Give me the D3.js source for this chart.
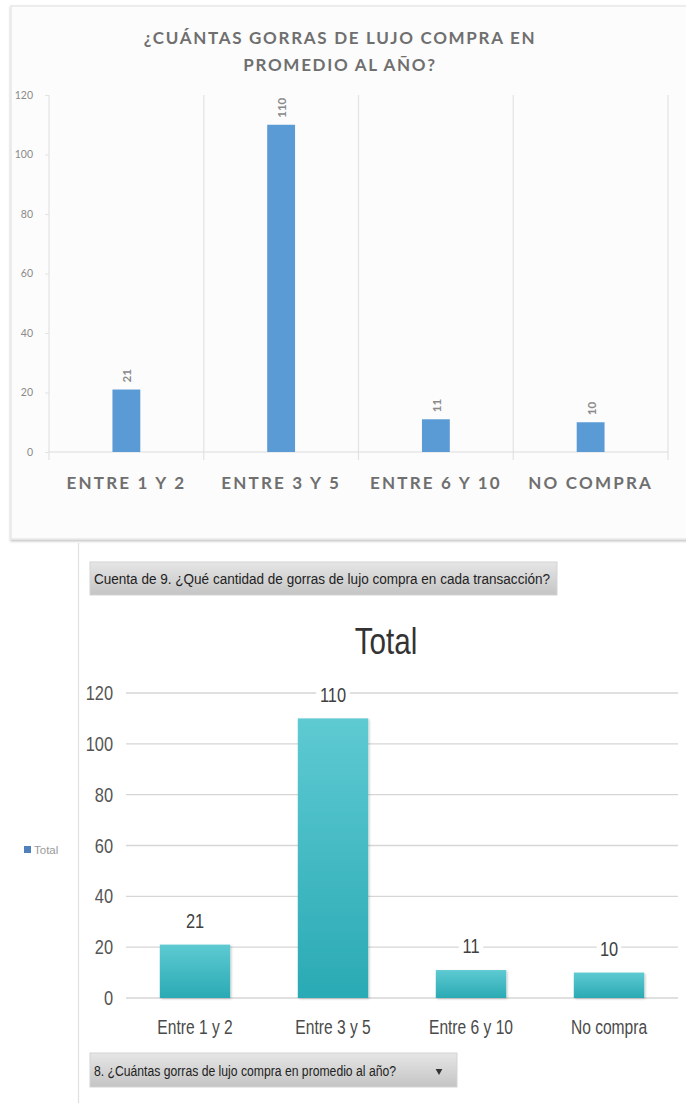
<!DOCTYPE html>
<html>
<head>
<meta charset="utf-8">
<script src="https://cdn.jsdelivr.net/npm/d3@7"></script>
<style>
  html, body { margin: 0; padding: 0; background: #ffffff; }
  svg { display: block; }
</style>
</head>
<body>
<svg id="chart" width="686" height="1103"></svg>
<script>
// Survey answers: how many luxury caps are bought per year
const categories = ["Entre 1 y 2", "Entre 3 y 5", "Entre 6 y 10", "No compra"];
const counts = [21, 110, 11, 10];
const yTicks = [0, 20, 40, 60, 80, 100, 120];

const topTitle = ["¿CUÁNTAS GORRAS DE LUJO COMPRA EN", "PROMEDIO AL AÑO?"];
const pivotTitle = "Total";
const valueField = "Cuenta de 9. ¿Qué cantidad de gorras de lujo compra en cada transacción?";
const axisField = "8. ¿Cuántas gorras de lujo compra en promedio al año?";
const legendLabel = "Total";

const data = categories.map((c, i) => ({ cat: c, value: counts[i] }));
const svg = d3.select("#chart");
const defs = svg.append("defs");

// condensed look: regular sans squeezed horizontally
const NARROW = "'Liberation Sans', Arial, sans-serif";
const SQUEEZE = 0.8;
const CAL = "Lato, 'Open Sans', sans-serif";

function narrowText(parent, x, y, str, size, fill, anchor) {
  return parent.append("text")
    .attr("transform", `translate(${x},${y}) scale(${SQUEEZE},1)`)
    .attr("text-anchor", anchor || "start")
    .attr("font-family", NARROW).attr("font-size", size).attr("fill", fill)
    .text(str);
}

/* ---------- upper chart: card ---------- */
const shadow = defs.append("filter").attr("id", "cardShadow")
  .attr("x", "-5%").attr("y", "-5%").attr("width", "110%").attr("height", "110%");
shadow.append("feDropShadow").attr("dx", 0).attr("dy", 1.5).attr("stdDeviation", 1.2)
  .attr("flood-color", "#000").attr("flood-opacity", 0.25);

svg.append("rect").attr("x", 11).attr("y", 6).attr("width", 690).attr("height", 533)
  .attr("fill", "#fcfcfc").attr("stroke", "#e8e8e8").attr("stroke-width", 1.5)
  .attr("filter", "url(#cardShadow)");

const upper = { left: 49, right: 668, y0: 452, y1: 95 };
const xTop = d3.scaleBand().domain(categories).range([upper.left, upper.right]);
const xTopBar = d3.scaleBand().domain(categories).range([upper.left, upper.right])
  .paddingInner(0.82).paddingOuter(0.41);
const yTop = d3.scaleLinear().domain([0, 120]).range([upper.y0, upper.y1]);

svg.append("g").selectAll("text").data(topTitle).join("text")
  .attr("x", 340).attr("y", (d, i) => 44 + i * 27)
  .attr("text-anchor", "middle")
  .attr("font-family", CAL).attr("font-weight", 700).attr("font-size", 17)
  .attr("letter-spacing", 1.7).attr("fill", "#6f6f6f")
  .text(d => d);

// category separators and axis frame
const sepX = categories.map(c => xTop(c)).concat([upper.right]);
svg.append("g").selectAll("line").data(sepX).join("line")
  .attr("x1", d => d).attr("x2", d => d)
  .attr("y1", yTop(120)).attr("y2", upper.y0 + 8)
  .attr("stroke", "#e3e3e3").attr("stroke-width", 1.2);
svg.append("line").attr("x1", upper.left).attr("x2", upper.right)
  .attr("y1", upper.y0).attr("y2", upper.y0)
  .attr("stroke", "#dcdcdc").attr("stroke-width", 1.2);

// y axis (labels and short ticks)
const yAxisTop = svg.append("g").attr("transform", `translate(${upper.left},0)`)
  .call(d3.axisLeft(yTop).tickValues(yTicks).tickSize(4).tickPadding(12));
yAxisTop.select(".domain").remove();
yAxisTop.selectAll(".tick line").attr("stroke", "#e3e3e3");
yAxisTop.selectAll(".tick text").attr("font-family", CAL).attr("font-size", 10.5)
  .attr("fill", "#8a8a8a");

svg.append("g").selectAll("rect").data(data).join("rect")
  .attr("x", d => xTopBar(d.cat)).attr("width", xTopBar.bandwidth())
  .attr("y", d => yTop(d.value)).attr("height", d => upper.y0 - yTop(d.value))
  .attr("fill", "#5b9bd5");

svg.append("g").selectAll("text").data(data).join("text")
  .attr("transform", d => `translate(${xTopBar(d.cat) + xTopBar.bandwidth() / 2 + 5},${yTop(d.value) - 7}) rotate(-90)`)
  .attr("font-family", CAL).attr("font-size", 11.5).attr("font-weight", 700)
  .attr("fill", "#8a8a8a")
  .text(d => d.value);

// category labels
svg.append("g").selectAll("text").data(data).join("text")
  .attr("x", d => xTop(d.cat) + xTop.bandwidth() / 2).attr("y", 489)
  .attr("text-anchor", "middle")
  .attr("font-family", CAL).attr("font-weight", 700).attr("font-size", 17)
  .attr("letter-spacing", 2.2).attr("fill", "#6f6f6f")
  .text(d => d.cat.toUpperCase());

/* ---------- lower chart: pivot chart ---------- */
svg.append("line").attr("x1", 78.5).attr("x2", 78.5).attr("y1", 543).attr("y2", 1103)
  .attr("stroke", "#e0e0e0").attr("stroke-width", 1.2);

// field buttons
const btnGrad = defs.append("linearGradient").attr("id", "btnGrad")
  .attr("x1", 0).attr("y1", 0).attr("x2", 0).attr("y2", 1);
btnGrad.append("stop").attr("offset", "0%").attr("stop-color", "#e6e6e6");
btnGrad.append("stop").attr("offset", "100%").attr("stop-color", "#c4c4c4");

function fieldButton(x, y, w, h, label, textW, arrow) {
  const g = svg.append("g");
  g.append("rect").attr("x", x).attr("y", y).attr("width", w).attr("height", h)
    .attr("fill", "url(#btnGrad)").attr("stroke", "#d3d3d3").attr("stroke-width", 1);
  g.append("text").attr("x", x + 4).attr("y", y + h / 2 + 5.5)
    .attr("font-family", NARROW).attr("font-size", 15.5).attr("fill", "#222")
    .attr("textLength", textW).attr("lengthAdjust", "spacingAndGlyphs")
    .text(label);
  if (arrow) {
    g.append("path")
      .attr("d", d3.symbol(d3.symbolTriangle, 20)())
      .attr("transform", `translate(${x + w - 18},${y + h / 2 + 1}) rotate(180)`)
      .attr("fill", "#333");
  }
}
fieldButton(90, 562, 467, 33, valueField, 456, false);
fieldButton(90, 1053, 367, 34, axisField, 302, true);

narrowText(svg, 386, 654, pivotTitle, 37, "#333", "middle");

// legend
svg.append("rect").attr("x", 24).attr("y", 846).attr("width", 7).attr("height", 7)
  .attr("fill", "#4f81bd");
svg.append("text").attr("x", 34).attr("y", 854)
  .attr("font-family", "'Liberation Sans', sans-serif").attr("font-size", 11.5)
  .attr("fill", "#9a9a9a").text(legendLabel);

const lower = { left: 126, right: 678, y0: 998, y1: 693 };
const xBot = d3.scaleBand().domain(categories).range([lower.left, lower.right])
  .paddingInner(0.49).paddingOuter(0.245);
const yBot = d3.scaleLinear().domain([0, 120]).range([lower.y0, lower.y1]);

// gridlines
svg.append("g").selectAll("line").data(yTicks).join("line")
  .attr("x1", lower.left).attr("x2", lower.right)
  .attr("y1", d => yBot(d)).attr("y2", d => yBot(d))
  .attr("stroke", "#d6d6d6").attr("stroke-width", 1.3);

const yAxisBot = svg.append("g").attr("transform", `translate(${lower.left},0)`)
  .call(d3.axisLeft(yBot).tickValues(yTicks).tickSize(0));
yAxisBot.select(".domain").remove();
yAxisBot.selectAll(".tick text")
  .attr("x", null)
  .attr("transform", `translate(-13,0) scale(${SQUEEZE},1)`)
  .attr("font-family", NARROW).attr("font-size", 20.5)
  .attr("fill", "#555");

const barGrad = defs.append("linearGradient").attr("id", "barGrad")
  .attr("x1", 0).attr("y1", 0).attr("x2", 0).attr("y2", 1);
barGrad.append("stop").attr("offset", "0%").attr("stop-color", "#5ecad2");
barGrad.append("stop").attr("offset", "100%").attr("stop-color", "#2aaab4");

const barShadow = defs.append("filter").attr("id", "barShadow")
  .attr("x", "-10%").attr("y", "-10%").attr("width", "125%").attr("height", "125%");
barShadow.append("feDropShadow").attr("dx", 1.2).attr("dy", 1).attr("stdDeviation", 1)
  .attr("flood-color", "#000").attr("flood-opacity", 0.22);

svg.append("g").selectAll("rect").data(data).join("rect")
  .attr("x", d => xBot(d.cat)).attr("width", xBot.bandwidth())
  .attr("y", d => yBot(d.value)).attr("height", d => lower.y0 - yBot(d.value))
  .attr("fill", "url(#barGrad)").attr("filter", "url(#barShadow)");

// value labels with a white backing that breaks the gridline
const labels = svg.append("g").selectAll("g").data(data).join("g")
  .attr("transform", d => `translate(${xBot(d.cat) + xBot.bandwidth() / 2},${yBot(d.value) - 24})`);
labels.append("rect")
  .attr("x", d => -String(d.value).length * 4.6 - 3).attr("y", -11)
  .attr("width", d => String(d.value).length * 9.2 + 6).attr("height", 22)
  .attr("fill", "#ffffff");
labels.append("text").attr("text-anchor", "middle").attr("dy", "0.36em")
  .attr("transform", `scale(${SQUEEZE},1)`)
  .attr("font-family", NARROW).attr("font-size", 20.5).attr("fill", "#404040")
  .text(d => d.value);

// category labels
const catLabels = svg.append("g");
data.forEach(d => {
  narrowText(catLabels, xBot(d.cat) + xBot.bandwidth() / 2, 1034, d.cat, 19.5, "#4a4a4a", "middle");
});
</script>
</body>
</html>
